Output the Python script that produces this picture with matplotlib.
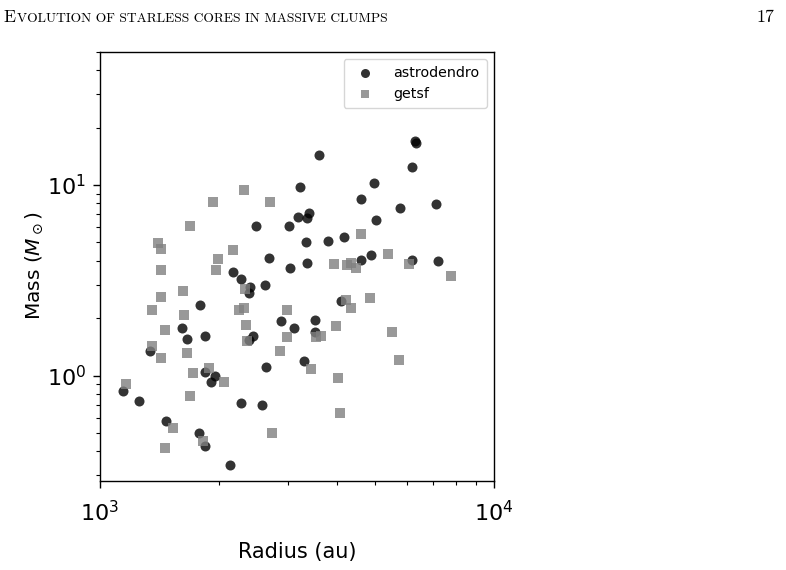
import matplotlib
matplotlib.use("Agg")
import matplotlib.pyplot as plt

# astrodendro cores: radius (au), mass (Msun)
astro_radius = [6300, 6330, 3590, 6180, 4954, 3213, 4597, 7105, 5779, 3396,
                3172, 3352, 5009, 2484, 3012, 3337, 3784, 4150, 4873, 2685,
                4605, 6200, 7188, 3041, 3343, 2176, 2284, 2407, 2384, 2623,
                4090, 1794, 1613, 1663, 1844, 1342, 2874, 3103, 3505, 3519,
                2441, 2395, 3304, 2634, 1844, 1962, 1913, 1142, 1254, 2284,
                2582, 1473, 1779, 1844, 2134]
astro_mass = [16.93, 16.59, 14.44, 12.47, 10.28, 9.79, 8.48, 7.98, 7.56, 7.13,
              6.82, 6.75, 6.54, 6.09, 6.09, 5.02, 5.10, 5.36, 4.31, 4.14,
              4.02, 4.05, 3.97, 3.68, 3.90, 3.49, 3.22, 2.93, 2.71, 2.97,
              2.45, 2.35, 1.777, 1.553, 1.606, 1.347, 1.941, 1.788, 1.957, 1.696,
              1.610, 1.543, 1.191, 1.110, 1.040, 1.000, 0.921, 0.828, 0.740, 0.720,
              0.701, 0.580, 0.501, 0.430, 0.340]

# getsf cores: radius (au), mass (Msun)
getsf_radius = [2324, 1932, 2696, 1689, 4610, 1404, 1428, 2170, 1993, 5398,
                1431, 1966, 3933, 4228, 4336, 4457, 6095, 7767, 1624, 2334,
                1431, 4845, 4203, 1357, 1634, 2257, 2324, 2988, 4341, 1466,
                2343, 3972, 1357, 1430, 1660, 2365, 2988, 3534, 3633, 2858,
                5510, 1893, 1720, 2061, 1162, 1692, 3438, 4025, 5749, 4071,
                1532, 1460, 1830, 2737]
getsf_mass = [9.42, 8.18, 8.18, 6.10, 5.54, 4.99, 4.63, 4.55, 4.07, 4.33,
              3.56, 3.56, 3.83, 3.80, 3.89, 3.66, 3.86, 3.34, 2.79, 2.85,
              2.57, 2.55, 2.49, 2.22, 2.08, 2.20, 2.25, 2.22, 2.26, 1.731,
              1.834, 1.810, 1.431, 1.230, 1.311, 1.510, 1.600, 1.591, 1.614, 1.341,
              1.684, 1.101, 1.028, 0.930, 0.903, 0.781, 1.081, 0.970, 1.210, 0.640,
              0.530, 0.419, 0.452, 0.501]

series_labels = ["astrodendro", "getsf"]
x_label = "Radius (au)"
y_label = r"Mass ($M_\odot$)"
header_first = "E"
header_rest = "VOLUTION OF STARLESS CORES IN MASSIVE CLUMPS"
page_number = "17"

fig = plt.figure(figsize=(7.86, 5.70), dpi=100)
ax = fig.add_axes([0.1272, 0.1561, 0.5013, 0.7532])

ax.scatter(astro_radius, astro_mass, s=52, marker="o", color="black",
           alpha=0.8, linewidths=0, label=series_labels[0])
ax.scatter(getsf_radius, getsf_mass, s=46, marker="s", color="grey",
           alpha=0.8, linewidths=0, label=series_labels[1])

ax.set_xscale("log")
ax.set_yscale("log")
ax.set_xlim(1000, 10000)
ax.set_ylim(0.28, 50)

ax.set_xlabel(x_label, fontsize=15, labelpad=12)
ax.set_ylabel(y_label, fontsize=14.5, labelpad=1)
ax.tick_params(axis="both", which="major", labelsize=16, length=5, width=1)
ax.tick_params(axis="x", which="major", pad=9)
ax.tick_params(axis="y", which="major", pad=5)
ax.tick_params(axis="both", which="minor", length=3, width=0.8)
for sp in ax.spines.values():
    sp.set_linewidth(1.0)

ax.legend(loc="upper right", fontsize=10.3, frameon=True, handletextpad=1.0,
          borderpad=0.5, markerscale=0.9)

fig.text(0.004, 0.962, header_first, fontsize=12.8, family="cmr10",
         va="baseline", ha="left")
fig.text(0.0212, 0.962, header_rest, fontsize=9.7, family="cmr10",
         va="baseline", ha="left")
fig.text(0.985, 0.962, page_number, fontsize=13, family="cmr10",
         va="baseline", ha="right")

fig.savefig("out.png", dpi=100)
